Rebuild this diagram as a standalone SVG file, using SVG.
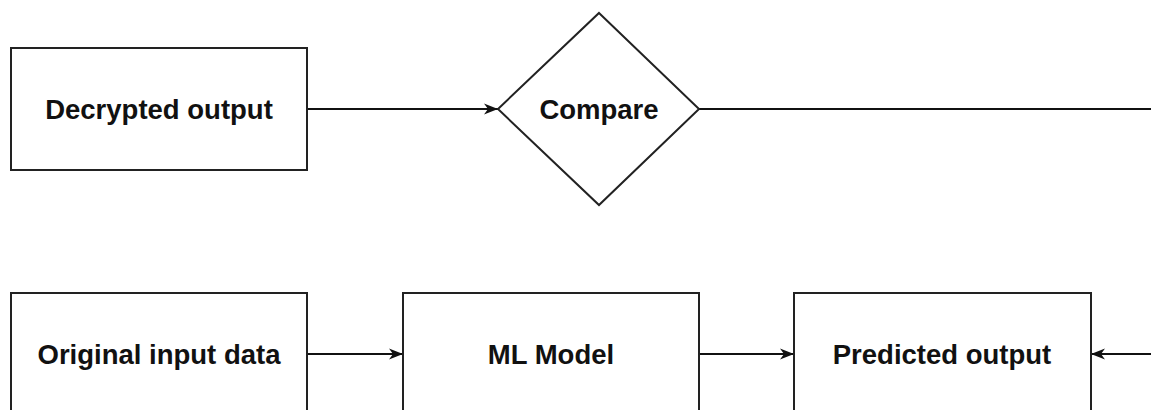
<svg xmlns="http://www.w3.org/2000/svg" width="1151" height="410" viewBox="0 0 1151 410">
<style>
.box{fill:#fff;stroke:#222;stroke-width:2}
.lbl{font-family:"Liberation Sans",Arial,sans-serif;font-weight:bold;font-size:27.5px;fill:#111;text-anchor:middle}
.conn{fill:none;stroke:#111;stroke-width:1.8}
</style>
<defs>
<marker id="arr" markerUnits="userSpaceOnUse" markerWidth="16" markerHeight="14" refX="14" refY="7" orient="auto">
<path d="M0,1.5 L14,7 L0,12.5 L4,7 z" fill="#111"/>
</marker>
</defs>
<rect width="1151" height="410" fill="#fff"/>
<g id="connectors">
<line class="conn" x1="307" y1="109" x2="498" y2="109" marker-end="url(#arr)"/>
<path class="conn" d="M699,109 L1175,109 L1175,354 L1091,354" marker-end="url(#arr)"/>
<line class="conn" x1="307" y1="354" x2="403" y2="354" marker-end="url(#arr)"/>
<line class="conn" x1="699" y1="354" x2="794" y2="354" marker-end="url(#arr)"/>
</g>
<g id="decrypted">
<rect class="box" x="11" y="48" width="296" height="122"/>
<text class="lbl" x="159" y="119">Decrypted output</text>
</g>
<g id="compare">
<polygon class="box" points="599,13 699,109 599,205 498,109"/>
<text class="lbl" x="599" y="119">Compare</text>
</g>
<g id="original">
<rect class="box" x="11" y="293" width="296" height="122"/>
<text class="lbl" x="159" y="364">Original input data</text>
</g>
<g id="mlmodel">
<rect class="box" x="403" y="293" width="296" height="122"/>
<text class="lbl" x="551" y="364">ML Model</text>
</g>
<g id="predicted">
<rect class="box" x="794" y="293" width="297" height="122"/>
<text class="lbl" x="942" y="364">Predicted output</text>
</g>
</svg>
